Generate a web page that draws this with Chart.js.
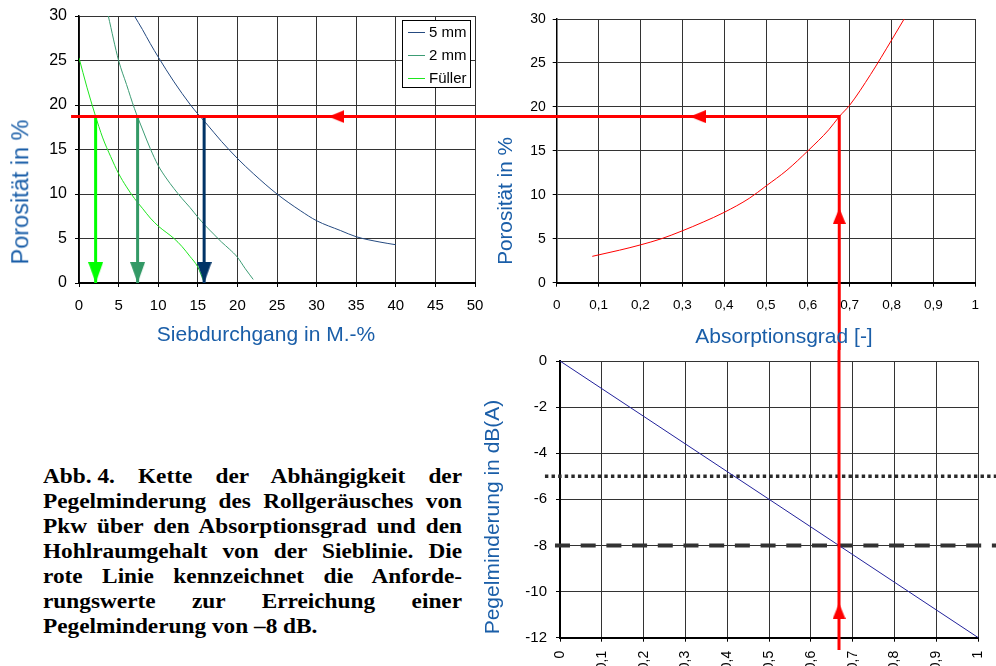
<!DOCTYPE html>
<html>
<head>
<meta charset="utf-8">
<script src="https://cdn.jsdelivr.net/npm/chart.js@4.4.0/dist/chart.umd.min.js"></script>
<style>
  body { margin: 0; background: #fff; }
  #page { position: relative; width: 996px; height: 666px; overflow: hidden; background: #fff;
          font-family: 'Liberation Sans', Arial, sans-serif; }
  #page canvas { position: absolute; }
  .ttl { position: absolute; color: #1a5ea8; white-space: nowrap; line-height: 1; }
  .cap { position: absolute; left: 43px; top: 463.7px; width: 359.7px; color: #000;
         font: bold 20px 'Liberation Serif', 'Times New Roman', serif; line-height: 25px;
         transform: scaleX(1.165); transform-origin: left top; }
  .cap div { text-align: justify; text-align-last: justify; white-space: nowrap; }
  .cap div.last { text-align-last: left; }
  .cap .abb { display: inline-block; width: 81.5px; text-align: left; text-align-last: left; }
</style>
</head>
<body>
<div id="page">
  <canvas id="sieve" width="560" height="350" style="left:0;top:0"></canvas>
  <canvas id="absorp" width="506" height="350" style="left:490px;top:0"></canvas>
  <canvas id="level" width="506" height="316" style="left:490px;top:350px"></canvas>

  <div class="ttl" style="left:266px;top:332.5px;font-size:21px;transform:translate(-50%,-50%)">Siebdurchgang in M.-%</div>
  <div class="ttl" style="left:21px;top:192px;font-size:23.5px;transform:translate(-50%,-50%) rotate(-90deg)">Porosität in %</div>
  <div class="ttl" style="left:784px;top:334.5px;font-size:21px;transform:translate(-50%,-50%)">Absorptionsgrad [-]</div>
  <div class="ttl" style="left:505px;top:201px;font-size:20.7px;transform:translate(-50%,-50%) rotate(-90deg)">Porosität in %</div>
  <div class="ttl" style="left:491px;top:516.7px;font-size:21px;transform:translate(-50%,-50%) rotate(-90deg)">Pegelminderung in dB(A)</div>

  <div class="cap">
    <div><span class="abb">Abb. 4.</span>Kette der Abhängigkeit der</div>
    <div>Pegelminderung des Rollgeräusches von</div>
    <div>Pkw über den Absorptionsgrad und den</div>
    <div>Hohlraumgehalt von der Sieblinie. Die</div>
    <div>rote Linie kennzeichnet die Anforde-</div>
    <div>rungswerte zur Erreichung einer</div>
    <div class="last">Pegelminderung von –8 dB.</div>
  </div>
</div>

<script>
// ---- Porosity vs. sieve passing (mass-%) for three grain sizes ----
const sieve5mm = [7, 8, 9, 10, 12, 14, 15, 16, 18, 20, 22, 25, 28, 30, 33, 35, 38, 40];
const poro5mm  = [30, 28.5, 26.9, 25.4, 22.6, 20.1, 19.0, 18.0, 15.9, 14.0, 12.3, 10.0, 8.1, 7.0, 5.9, 5.2, 4.6, 4.3];

const sieve2mm = [3.7, 5, 6, 7, 8, 9, 10, 11, 12, 13, 14, 15, 16, 17, 18, 19, 20, 21, 22];
const poro2mm  = [30, 25.0, 22.3, 19.6, 17.3, 15.1, 13.2, 11.8, 10.6, 9.5, 8.5, 7.4, 6.4, 5.5, 4.6, 3.8, 2.9, 1.6, 0.4];

const sieveFiller = [0, 1, 2, 3, 4, 5, 6, 7, 8, 9, 10, 11, 12, 13, 14, 15, 15.8];
const poroFiller  = [25.3, 22.0, 19.0, 16.3, 14.2, 12.3, 10.8, 9.5, 8.4, 7.3, 6.4, 5.7, 5.0, 4.1, 3.0, 1.8, 0.1];

const sieveAtReq = { filler: 2.1, mm2: 7.4, mm5: 15.8 };

// ---- Porosity vs. absorption coefficient ----
const alphaCurve = [0.085, 0.15, 0.2, 0.25, 0.3, 0.35, 0.4, 0.46, 0.5, 0.55, 0.6, 0.65, 0.675, 0.7, 0.75, 0.8, 0.83];
const poroCurve  = [3.0, 3.7, 4.3, 5.0, 5.9, 6.9, 8.0, 9.6, 11.0, 12.8, 15.0, 17.4, 18.9, 20.2, 23.7, 27.6, 30];

// ---- Level reduction vs. absorption coefficient ----
const alphaLevel = [0, 1];
const dbLevel    = [0, -12];
const dbDotted   = -5;
const dbDashed   = -8;

// ---- Requirement path (red) ----
const reqPoroLeft  = 18.7;   // porosity level in the sieve chart
const reqPoroRight = 18.9;   // porosity level in the absorption chart
const reqAlphaTop  = 0.675;  // absorption coefficient, upper chart
const reqAlphaBot  = 0.667;  // absorption coefficient, lower chart (-8 dB)
const arrowSieve   = 31.5;   // arrow tips along the path
const arrowAlpha   = 0.318;
const arrowPoro    = 8.5;
const arrowDb      = -10.5;

// ---- Tick labels ----
const sieveTicks = ['0', '5', '10', '15', '20', '25', '30', '35', '40', '45', '50'];
const poroTicks  = ['0', '5', '10', '15', '20', '25', '30'];
const alphaTicks = ['0', '0,1', '0,2', '0,3', '0,4', '0,5', '0,6', '0,7', '0,8', '0,9', '1'];
const dbTicks    = ['-12', '-10', '-8', '-6', '-4', '-2', '0'];

Chart.defaults.font.family = "'Liberation Sans', Arial, sans-serif";
Chart.defaults.color = '#000';
Chart.defaults.animation = false;
Chart.defaults.events = [];

const pairs = (xs, ys) => xs.map((x, i) => ({ x, y: ys[i] }));

// arrowhead sprites: the tip sits at the centre of the sprite
function arrowHead(color, w, len, dir) {
  const c = document.createElement('canvas');
  if (dir === 'left') { c.width = 2 * len; c.height = w; }
  else { c.width = w; c.height = 2 * len; }
  const g = c.getContext('2d');
  g.fillStyle = color;
  g.beginPath();
  if (dir === 'down') {
    g.moveTo(0, 0); g.lineTo(w, 0); g.lineTo(w / 2, len);
  } else if (dir === 'up') {
    g.moveTo(w / 2, len); g.lineTo(w, 2 * len); g.lineTo(0, 2 * len);
  } else {
    g.moveTo(len, w / 2); g.lineTo(2 * len, 0); g.lineTo(2 * len, w);
  }
  g.closePath();
  g.fill();
  return c;
}

const RED = '#ff0000';
const C5 = '#254a80', C2 = '#3c9c74', CF = '#1ee61e';
const A5 = '#003366', A2 = '#339966', AF = '#00ff00';

const redLeft = arrowHead(RED, 13, 16, 'left');
const redUp = arrowHead(RED, 13, 16, 'up');

// fixed axis box; label overflow must not move the plot area
function fixedSize(key, value) {
  return (s) => {
    s[key] = value;
    s.paddingLeft = 0; s.paddingRight = 0; s.paddingTop = 0; s.paddingBottom = 0;
  };
}

function gridScale(min, max, step, labels, fontSize, pad, fit) {
  return {
    type: 'linear', min, max,
    ticks: { stepSize: step, autoSkip: false, font: { size: fontSize }, color: '#000', padding: pad,
             callback: (v, i) => labels[i] },
    grid: { color: '#333', lineWidth: 1, tickLength: 4, tickColor: '#000' },
    border: { color: '#000', width: 1.5 },
    afterFit: fit
  };
}

function curve(label, xs, ys, color, order) {
  return { label, data: pairs(xs, ys), showLine: true, borderColor: color, borderWidth: 1,
           pointRadius: 0, cubicInterpolationMode: 'monotone', order };
}

function arrowDown(x, yTop, color) {
  const head = arrowHead(color, 15, 21, 'down');
  return { data: [{ x, y: yTop }, { x, y: 0 }], showLine: true, borderColor: color, borderWidth: 3,
           pointRadius: [0, 8], pointStyle: (c) => c.dataIndex === 1 ? head : 'circle', order: 2 };
}

function marker(x, y, sprite) {
  return { data: [{ x, y }], showLine: false, pointRadius: 8, pointStyle: sprite, order: 0 };
}

// legend box drawn inside the plot area of the sieve chart
const insideLegend = {
  id: 'insideLegend',
  afterDraw(chart) {
    const ctx = chart.ctx;
    const items = chart.data.datasets.filter(d => d.label);
    ctx.save();
    ctx.fillStyle = '#fff';
    ctx.fillRect(402, 20, 69, 67);
    ctx.strokeStyle = '#000';
    ctx.lineWidth = 1;
    ctx.strokeRect(402.5, 20.5, 68, 67);
    ctx.font = "15px 'Liberation Sans', Arial, sans-serif";
    ctx.textBaseline = 'middle';
    items.forEach((d, i) => {
      const y = 32.5 + i * 23;
      ctx.strokeStyle = d.borderColor;
      ctx.beginPath(); ctx.moveTo(408, y); ctx.lineTo(425, y); ctx.stroke();
      ctx.fillStyle = '#000';
      ctx.fillText(d.label, 429, y);
    });
    ctx.restore();
  }
};

const noAutoPad = (p) => ({ autoPadding: false, padding: p });

// ---- Sieve chart ----
const xSieve = gridScale(0, 50, 5, sieveTicks, 15, 10, fixedSize('height', 67));
xSieve.border.width = 2;
new Chart(document.getElementById('sieve'), {
  type: 'scatter',
  data: {
    datasets: [
      curve('5 mm', sieve5mm, poro5mm, C5, 5),
      curve('2 mm', sieve2mm, poro2mm, C2, 5),
      curve('Füller', sieveFiller, poroFiller, CF, 5),
      { data: [{ x: -1, y: reqPoroLeft }, { x: 60, y: reqPoroLeft }], showLine: true, borderColor: RED,
        borderWidth: 3, pointRadius: 0, clip: false, order: 1 },
      marker(arrowSieve, reqPoroLeft, redLeft),
      arrowDown(sieveAtReq.filler, reqPoroLeft, AF),
      arrowDown(sieveAtReq.mm2, reqPoroLeft, A2),
      arrowDown(sieveAtReq.mm5, reqPoroLeft, A5)
    ]
  },
  options: {
    responsive: false,
    layout: noAutoPad({ top: 16, right: 85, left: 0, bottom: 0 }),
    plugins: { legend: { display: false }, tooltip: { enabled: false } },
    scales: {
      x: xSieve,
      y: gridScale(0, 30, 5, poroTicks, 16, 8, fixedSize('width', 79))
    }
  },
  plugins: [insideLegend]
});

// ---- Absorption chart ----
const xAlpha = gridScale(0, 1, 0.1, alphaTicks, 13.5, 10, fixedSize('height', 67.3));
xAlpha.border.width = 2;
new Chart(document.getElementById('absorp'), {
  type: 'scatter',
  data: {
    datasets: [
      marker(arrowAlpha, reqPoroRight, redLeft),
      marker(reqAlphaTop, arrowPoro, redUp),
      { data: [{ x: -0.2, y: reqPoroRight }, { x: reqAlphaTop, y: reqPoroRight }, { x: reqAlphaTop, y: -9 }],
        showLine: true, borderColor: RED, borderWidth: 3, pointRadius: 0, clip: false, order: 1 },
      curve(undefined, alphaCurve, poroCurve, RED, 5)
    ]
  },
  options: {
    responsive: false,
    layout: noAutoPad({ top: 19, right: 20.7, left: 0, bottom: 0 }),
    plugins: { legend: { display: false }, tooltip: { enabled: false } },
    scales: {
      x: xAlpha,
      y: gridScale(0, 30, 5, poroTicks, 14, 7, fixedSize('width', 66.7))
    }
  }
});

// ---- Level reduction chart ----
const xLevel = gridScale(0, 1, 0.1, alphaTicks, 14, 9, fixedSize('height', 28.3));
xLevel.ticks.minRotation = 90;
xLevel.ticks.maxRotation = 90;
xLevel.border.width = 2;
const yLevel = gridScale(-12, 0, 2, dbTicks, 15, 9, fixedSize('width', 70));
yLevel.border.width = 2;
new Chart(document.getElementById('level'), {
  type: 'scatter',
  data: {
    datasets: [
      marker(reqAlphaBot, arrowDb, redUp),
      { data: [{ x: reqAlphaBot, y: 0.8 }, { x: reqAlphaBot, y: -12.53 }], showLine: true, borderColor: RED,
        borderWidth: 3, pointRadius: 0, clip: false, order: 1 },
      { data: pairs(alphaLevel, dbLevel), showLine: true, borderColor: '#22229b', borderWidth: 1,
        pointRadius: 0, order: 3 },
      { data: [{ x: -0.036, y: dbDotted }, { x: 1.05, y: dbDotted }], showLine: true, borderColor: '#2a2a2a',
        borderWidth: 3.5, borderDash: [3.4, 3.2], pointRadius: 0, clip: false, order: 4 },
      { data: [{ x: -0.012, y: dbDashed }, { x: 1.05, y: dbDashed }], showLine: true, borderColor: '#333',
        borderWidth: 4, borderDash: [15, 10.7], pointRadius: 0, clip: false, order: 4 }
    ]
  },
  options: {
    responsive: false,
    layout: noAutoPad({ top: 11, right: 17.7, left: 0, bottom: 0 }),
    plugins: { legend: { display: false }, tooltip: { enabled: false } },
    scales: { x: xLevel, y: yLevel }
  }
});
</script>
</body>
</html>
